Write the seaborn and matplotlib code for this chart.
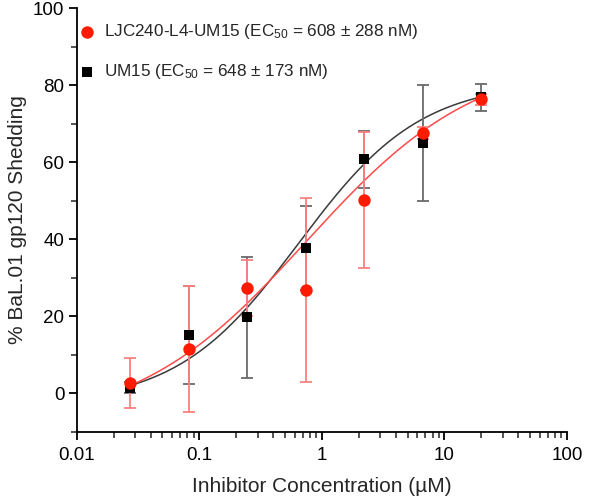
import numpy as np
import pandas as pd
import matplotlib
matplotlib.use("Agg")
import matplotlib.pyplot as plt
from matplotlib.ticker import MultipleLocator, LogLocator, NullFormatter, FixedLocator
import seaborn as sns

# Data (concentrations in uM)
conc = [0.0274, 0.0823, 0.247, 0.741, 2.22, 6.67, 20.0]

ljc_mean = [2.6, 11.5, 27.3, 26.8, 50.1, 67.6, 76.3]
ljc_err = [6.5, 16.4, 7.2, 23.9, 17.6, 1.5, 1.5]

um15_mean = [1.5, 15.1, 19.7, 37.7, 60.7, 65.0, 76.8]
um15_err = [1.5, 12.8, 15.8, 11.0, 7.3, 15.0, 3.4]

# 4-parameter logistic fit parameters (bottom, top, EC50 uM, hill)
ljc_fit = (-9.0, 88.0, 0.75, 0.62)
um15_fit = (-3.0, 81.0, 0.648, 0.87)

ljc_label = "LJC240-L4-UM15 (EC$_{50}$ = 608 ± 288 nM)"
um15_label = "UM15 (EC$_{50}$ = 648 ± 173 nM)"


def logistic(x, p):
    bottom, top, ec50, hill = p
    return bottom + (top - bottom) / (1 + (ec50 / x) ** hill)


xs = np.logspace(np.log10(conc[0]), np.log10(conc[-1]), 200)
curves = pd.concat([
    pd.DataFrame({"x": xs, "y": logistic(xs, um15_fit), "s": "UM15"}),
    pd.DataFrame({"x": xs, "y": logistic(xs, ljc_fit), "s": "LJC"}),
])

sns.set_style("ticks")
plt.rcParams["font.family"] = ["Liberation Sans", "DejaVu Sans"]
plt.rcParams["mathtext.fontset"] = "custom"
plt.rcParams["mathtext.rm"] = "Liberation Sans"
plt.rcParams["mathtext.it"] = "Liberation Sans:italic"

fig = plt.figure(figsize=(6, 5.01), dpi=100)
ax = fig.add_axes([0.128, 0.138, 0.817, 0.846])

sns.lineplot(data=curves, x="x", y="y", hue="s",
             palette={"UM15": "#3a3a3a", "LJC": "#ff4a4a"},
             lw=1.1, legend=False, ax=ax)

# error bars
ax.errorbar(conc, um15_mean, yerr=um15_err, fmt="none", ecolor="#6a6a6a",
            elinewidth=1.3, capsize=4, capthick=1.3, zorder=3)
ax.errorbar(conc, ljc_mean, yerr=ljc_err, fmt="none", ecolor="#ff8080",
            elinewidth=1.3, capsize=4, capthick=1.3, zorder=3)

# points
sns.scatterplot(x=conc, y=um15_mean, marker="s", s=50, color="black",
                edgecolor="black", linewidth=0, ax=ax, zorder=4,
                label=um15_label)
sns.scatterplot(x=conc, y=ljc_mean, marker="o", s=80, color="#ff1a00",
                edgecolor="#ff1a00", linewidth=0, ax=ax, zorder=5,
                label=ljc_label)

ax.set_xscale("log")
ax.set_xlim(0.01, 100)
ax.set_ylim(-10, 100)
ax.yaxis.set_major_locator(FixedLocator([0, 20, 40, 60, 80, 100]))
ax.yaxis.set_minor_locator(MultipleLocator(10))
ax.xaxis.set_minor_locator(LogLocator(base=10, subs=np.arange(2, 10), numticks=20))
ax.xaxis.set_minor_formatter(NullFormatter())
ax.set_xticks([0.01, 0.1, 1, 10, 100])
ax.set_xticklabels(["0.01", "0.1", "1", "10", "100"])

ax.tick_params(axis="both", which="major", direction="out", length=6, width=1.3,
               labelsize=13.5, colors="black", pad=3)
ax.tick_params(axis="x", which="major", pad=5)
ax.tick_params(axis="both", which="minor", direction="out", length=4, width=1.1)
for side in ["left", "bottom"]:
    ax.spines[side].set_linewidth(1.3)
    ax.spines[side].set_color("black")
sns.despine(ax=ax)

ax.set_xlabel("Inhibitor Concentration (µM)", fontsize=15, labelpad=9)
ax.set_ylabel("% BaL.01 gp120 Shedding", fontsize=15, labelpad=4)

handles, labels = ax.get_legend_handles_labels()
leg = ax.legend(handles[::-1], labels[::-1], loc="upper left",
                bbox_to_anchor=(0.0, 0.967), frameon=False, fontsize=12.3,
                labelspacing=1.25, handlelength=1.2, handletextpad=0.4,
                borderaxespad=0.0, borderpad=0.0)

fig.savefig("out.png", dpi=100)
